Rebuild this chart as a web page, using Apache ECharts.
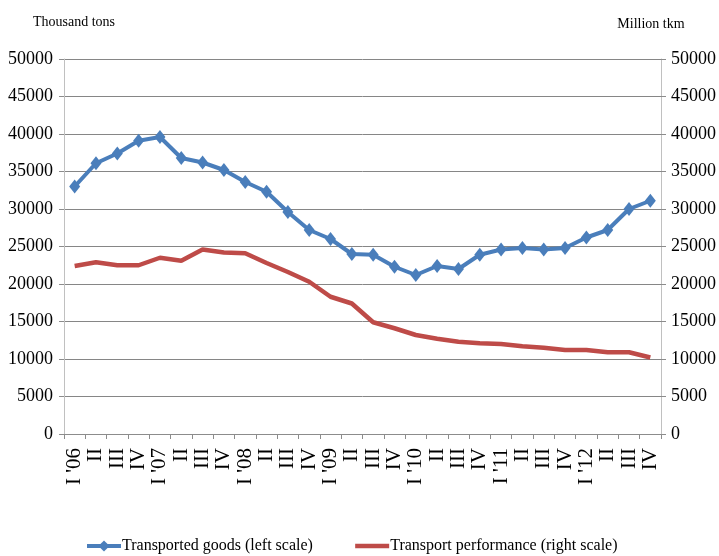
<!DOCTYPE html>
<html>
<head>
<meta charset="utf-8">
<script src="https://cdn.jsdelivr.net/npm/echarts@6/dist/echarts.min.js"></script>
<style>
  html, body { margin: 0; padding: 0; background: #fff; }
  #chart { width: 719px; height: 556px; }
</style>
</head>
<body>
<div id="chart"></div>
<script>
// quarters I '06 .. IV '12
const quarters = [
  "I '06", 'II', 'III', 'IV',
  "I '07", 'II', 'III', 'IV',
  "I '08", 'II', 'III', 'IV',
  "I '09", 'II', 'III', 'IV',
  "I '10", 'II', 'III', 'IV',
  "I '11", 'II', 'III', 'IV',
  "I '12", 'II', 'III', 'IV'
]
// thousand tons (left scale)
const goods = [33000, 36100, 37400, 39100, 39600, 36800, 36200, 35200, 33600, 32300,
  29600, 27200, 26000, 24000, 23900, 22300, 21200, 22400, 22000, 23900,
  24600, 24800, 24600, 24800, 26200, 27200, 30000, 31100]
// million tkm (right scale)
const performance = [22400, 22900, 22500, 22500, 23500, 23100, 24600, 24200, 24100, 22800,
  21600, 20300, 18300, 17400, 14900, 14100, 13200, 12700, 12300, 12100,
  12000, 11700, 11500, 11200, 11200, 10900, 10900, 10200]

const font = '"Liberation Serif", "Times New Roman", serif'
const chart = echarts.init(document.getElementById('chart'))

chart.setOption({
  animation: false,
  textStyle: { fontFamily: font, color: '#000' },
  grid: { left: 64, right: 57, top: 59, bottom: 122 },
  legend: {
    top: 533,
    left: 80,
    itemWidth: 34,
    itemHeight: 14,
    itemGap: 40,
    textStyle: { fontFamily: font, fontSize: 16, color: '#000', padding: [0, 0, 0, -4] },
    data: [
      { name: 'Transported goods (left scale)', lineStyle: { width: 4 } },
      { name: 'Transport performance (right scale)', lineStyle: { width: 4.5 }, itemStyle: { opacity: 0 } }
    ]
  },
  xAxis: {
    type: 'category',
    data: quarters,
    boundaryGap: true,
    axisLine: { lineStyle: { color: '#8c8c8c', width: 1 } },
    axisTick: { show: true, length: 5, lineStyle: { color: '#8c8c8c' } },
    axisLabel: {
      interval: 0,
      rotate: 90,
      fontFamily: font,
      fontSize: 21,
      color: '#000',
      margin: 14
    }
  },
  yAxis: [
    {
      type: 'value',
      min: 0,
      max: 50000,
      interval: 5000,
      name: 'Thousand tons',
      nameLocation: 'end',
      nameGap: 30,
      nameTextStyle: { fontFamily: font, fontSize: 14, color: '#000', align: 'center', padding: [0, 0, 0, 20] },
      axisLine: { show: true, lineStyle: { color: '#c0c0c0' } },
      axisTick: { show: true, length: 5, lineStyle: { color: '#8c8c8c' } },
      axisLabel: { fontFamily: font, fontSize: 18, color: '#000', margin: 11, formatter: v => String(v) },
      splitLine: { show: true, lineStyle: { color: '#868686', width: 1 } }
    },
    {
      type: 'value',
      min: 0,
      max: 50000,
      interval: 5000,
      position: 'right',
      name: 'Million tkm',
      nameLocation: 'end',
      nameGap: 28,
      nameTextStyle: { fontFamily: font, fontSize: 14, color: '#000', align: 'center', padding: [0, 20, 0, 0] },
      axisLine: { show: true, lineStyle: { color: '#c0c0c0' } },
      axisTick: { show: true, length: 5, lineStyle: { color: '#8c8c8c' } },
      axisLabel: { fontFamily: font, fontSize: 18, color: '#000', margin: 10, formatter: v => String(v) },
      splitLine: { show: false }
    }
  ],
  series: [
    {
      name: 'Transported goods (left scale)',
      type: 'line',
      yAxisIndex: 0,
      data: goods,
      symbol: 'diamond',
      symbolSize: [11, 14],
      showAllSymbol: true,
      itemStyle: { color: '#4a7ebb' },
      lineStyle: { color: '#4a7ebb', width: 4 }
    },
    {
      name: 'Transport performance (right scale)',
      type: 'line',
      yAxisIndex: 1,
      data: performance,
      symbol: 'none',
      itemStyle: { color: '#be4b48' },
      lineStyle: { color: '#be4b48', width: 4.5 }
    }
  ]
})
</script>
</body>
</html>
